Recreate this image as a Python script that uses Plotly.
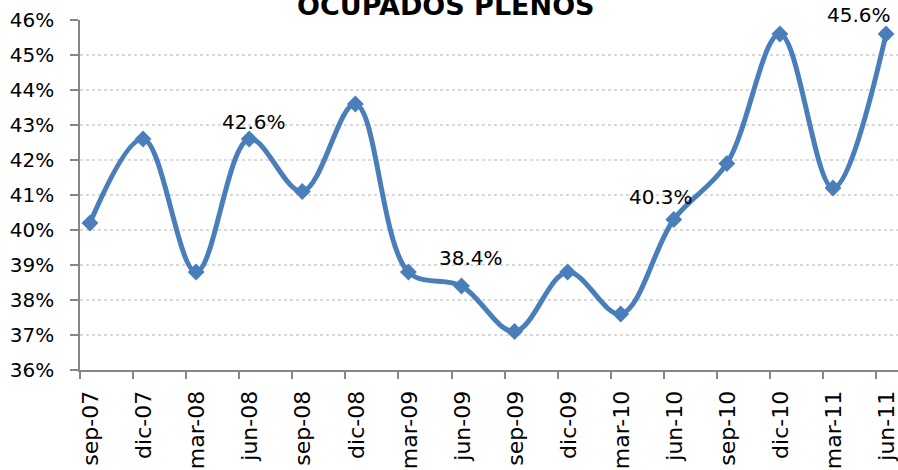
import plotly.graph_objects as go

# === Données ===
periodos = ['sep-07', 'dic-07', 'mar-08', 'jun-08', 'sep-08', 'dic-08', 'mar-09', 'jun-09',
            'sep-09', 'dic-09', 'mar-10', 'jun-10', 'sep-10', 'dic-10', 'mar-11', 'jun-11']
ocupados_plenos = [40.2, 42.6, 38.8, 42.6, 41.1, 43.6, 38.8, 38.4,
                   37.1, 38.8, 37.6, 40.3, 41.9, 45.6, 41.2, 45.6]
y_ticks = [36, 37, 38, 39, 40, 41, 42, 43, 44, 45, 46]
y_ticktext = [f'{v}%' for v in y_ticks]

# points avec étiquette de valeur (index, décalage x, décalage y en px)
etiquettes = [(3, 5, 17), (7, 10, 28), (11, -13, 23), (15, -27, 19)]

BLEU = '#4a7ebb'
GRIS = '#868686'
FONT = 'DejaVu Sans'

xs = list(range(len(periodos)))
decal = 0.188  # ticks décalés par rapport aux points

fig = go.Figure()

fig.add_trace(go.Scatter(
    x=xs, y=ocupados_plenos,
    mode='lines+markers',
    line=dict(color=BLEU, width=5, shape='spline', smoothing=1.0),
    marker=dict(symbol='diamond', size=13, color=BLEU),
    cliponaxis=False,
    showlegend=False,
))

for i, dx, dy in etiquettes:
    fig.add_annotation(
        x=xs[i], y=ocupados_plenos[i], xref='x', yref='y',
        text=f'{ocupados_plenos[i]:.1f}%', showarrow=False,
        xshift=dx, yshift=dy, yanchor='middle',
        font=dict(family=FONT, size=20, color='black'),
    )

# Titre (coupé en haut comme l'original)
fig.add_annotation(
    x=0.447, y=1.041, xref='paper', yref='paper',
    text='<b>OCUPADOS PLENOS</b>', showarrow=False,
    xanchor='center', yanchor='middle',
    font=dict(family=FONT, size=27, color='black'),
)

fig.update_layout(
    width=898, height=470,
    margin=dict(l=80, r=0, t=20, b=100),
    paper_bgcolor='white',
    plot_bgcolor='white',
    font=dict(family=FONT, color='black'),
    xaxis=dict(
        range=[-decal, 15.225],
        tickvals=[x - decal for x in xs],
        ticktext=periodos,
        tickangle=-90,
        ticks='outside', ticklen=7, tickcolor=GRIS, tickwidth=1.5,
        ticklabelshift=11,
        ticklabelstandoff=3,
        ticklabeloverflow='allow',
        tickfont=dict(family=FONT, size=22, color='black'),
        showline=True, linecolor=GRIS, linewidth=2,
        showgrid=False, zeroline=False, automargin=False,
    ),
    yaxis=dict(
        range=[36, 46],
        tickvals=y_ticks,
        ticktext=y_ticktext,
        ticks='outside', ticklen=8, tickcolor=GRIS, tickwidth=1.5,
        ticklabelstandoff=12,
        tickfont=dict(family=FONT, size=20, color='black'),
        showline=True, linecolor=GRIS, linewidth=1.5,
        showgrid=True, gridcolor='#d9d9d9', griddash='dot', gridwidth=1.5,
        zeroline=False, automargin=False,
    ),
)

fig.write_html('out.html', config={'displayModeBar': False},
               post_script="document.body.style.margin='0';")
